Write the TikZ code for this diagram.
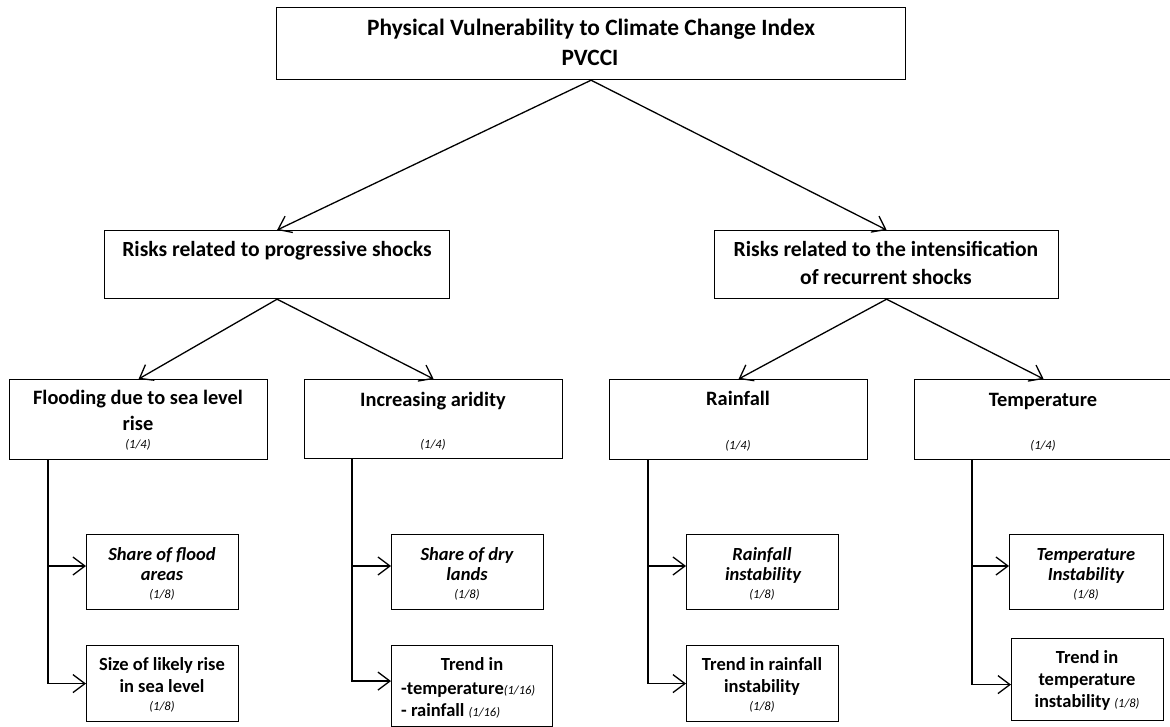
\documentclass[tikz,border=0pt]{standalone}
\usepackage{fontspec}
\setmainfont{Carlito}
\usetikzlibrary{arrows.meta,calc}
\newcommand{\wt}[1]{{\fontsize{12.5}{15}\selectfont\mdseries\itshape #1}}
\begin{document}
\begin{tikzpicture}[x=1pt,y=-1pt,
  box/.style={draw=black,line width=1.2pt,rectangle,inner sep=0pt,anchor=north west},
  conn/.style={draw=black,line width=1.3pt,-{Straight Barb[length=12pt,width=18pt]}},
  ttop/.style={font=\fontsize{23.4}{28}\selectfont\bfseries,anchor=base,inner sep=0pt},
  tmid/.style={font=\fontsize{21.6}{26}\selectfont\bfseries,anchor=base,inner sep=0pt},
  tlev/.style={font=\fontsize{20.4}{24}\selectfont\bfseries,anchor=base,inner sep=0pt},
  tsub/.style={font=\fontsize{18.5}{22}\selectfont\bfseries,anchor=base,inner sep=0pt},
  tsubi/.style={font=\fontsize{18.5}{22}\selectfont\bfseries\itshape,anchor=base,inner sep=0pt},
  tw/.style={font=\fontsize{12.5}{15}\selectfont\itshape,anchor=base,inner sep=0pt},
]
\useasboundingbox[fill=white] (0,0) rectangle (1170,727);

% boxes
\node[box,minimum width=629pt,minimum height=72pt] (top) at (276,7) {};
\node[box,minimum width=345pt,minimum height=68pt] (prog) at (104,230) {};
\node[box,minimum width=344pt,minimum height=68pt] (recur) at (714,230) {};
\node[box,minimum width=258pt,minimum height=80pt] (flood) at (9,379) {};
\node[box,minimum width=258pt,minimum height=79pt] (arid) at (304,379) {};
\node[box,minimum width=258pt,minimum height=80pt] (rain) at (609,379) {};
\node[box,minimum width=258pt,minimum height=80pt] (temp) at (914,379) {};
\node[box,minimum width=152pt,minimum height=75pt] (fa) at (86,534) {};
\node[box,minimum width=152pt,minimum height=76pt] (fb) at (86,645) {};
\node[box,minimum width=152pt,minimum height=75pt] (aa) at (391,534) {};
\node[box,minimum width=161pt,minimum height=81pt] (ab) at (391,645) {};
\node[box,minimum width=152pt,minimum height=75pt] (ra) at (686,534) {};
\node[box,minimum width=152pt,minimum height=76pt] (rb) at (686,645) {};
\node[box,minimum width=154pt,minimum height=75pt] (ta) at (1009,534) {};
\node[box,minimum width=152pt,minimum height=82pt] (tb) at (1011,638) {};

% texts
\node[ttop] (t1) at (591,36) {Physical Vulnerability to Climate Change Index};
\node[ttop] (t2) at (590,66) {PVCCI};
\node[tmid] (p1) at (277,257) {Risks related to progressive shocks};
\node[tmid] (q1) at (886,257) {Risks related to the intensification};
\node[tmid] (q2) at (886,285) {of recurrent shocks};

\node[tlev] (fl1) at (138,404) {Flooding due to sea level};
\node[tlev] (fl2) at (138,430) {rise};
\node[tw] (fl3) at (138,448) {(1/4)};
\node[tlev] (ar1) at (433,406) {Increasing aridity};
\node[tw] (ar3) at (433,448) {(1/4)};
\node[tlev] (rn1) at (738,405) {Rainfall};
\node[tw] (rn3) at (738,449) {(1/4)};
\node[tlev] (tp1) at (1043,406) {Temperature};
\node[tw] (tp3) at (1043,449) {(1/4)};

\node[tsubi] (fa1) at (162,560) {Share of flood};
\node[tsubi] (fa2) at (162,580) {areas};
\node[tw] (fa3) at (162,598) {(1/8)};
\node[tsub] (fb1) at (162,670) {Size of likely rise};
\node[tsub] (fb2) at (162,692) {in sea level};
\node[tw] (fb3) at (162,710) {(1/8)};

\node[tsubi] (aa1) at (467,560) {Share of dry};
\node[tsubi] (aa2) at (467,580) {lands};
\node[tw] (aa3) at (467,598) {(1/8)};
\node[tsub] (ab1) at (472,670) {Trend in};
\node[tsub,anchor=base west] (ab2) at (401,694) {-temperature\wt{(1/16)}};
\node[tsub,anchor=base west] (ab3) at (401,716) {- rainfall \wt{(1/16)}};

\node[tsubi] (ra1) at (762,560) {Rainfall};
\node[tsubi] (ra2) at (763,580) {instability};
\node[tw] (ra3) at (762,598) {(1/8)};
\node[tsub] (rb1) at (762,670) {Trend in rainfall};
\node[tsub] (rb2) at (762,692) {instability};
\node[tw] (rb3) at (762,710) {(1/8)};

\node[tsubi] (ta1) at (1086,560) {Temperature};
\node[tsubi] (ta2) at (1086,580) {Instability};
\node[tw] (ta3) at (1086,598) {(1/8)};
\node[tsub] (tb1) at (1087,663) {Trend in};
\node[tsub] (tb2) at (1087,685) {temperature};
\node[tsub] (tb3) at (1087,707) {instability \wt{(1/8)}};

% connectors
\draw[conn] (top.south) -- (prog.north);
\draw[conn] (top.south) -- (recur.north);
\draw[conn] (prog.south) -- (flood.north);
\draw[conn] (prog.south) -- (arid.north);
\draw[conn] (recur.south) -- (rain.north);
\draw[conn] (recur.south) -- (temp.north);

\coordinate (fj) at (48,566);
\coordinate (aj) at (352,566);
\coordinate (rj) at (648,566);
\coordinate (tj) at (972,566);
\draw[conn] (flood.south -| fj) |- (fb.west);
\draw[conn] (fj) -- (fj -| fa.west);
\draw[conn] (arid.south -| aj) |- ($(ab.west)+(0,-5)$);
\draw[conn] (aj) -- (aj -| aa.west);
\draw[conn] (rain.south -| rj) |- (rb.west);
\draw[conn] (rj) -- (rj -| ra.west);
\draw[conn] (temp.south -| tj) |- ($(tb.west)+(0,5)$);
\draw[conn] (tj) -- (tj -| ta.west);
\end{tikzpicture}
\end{document}
